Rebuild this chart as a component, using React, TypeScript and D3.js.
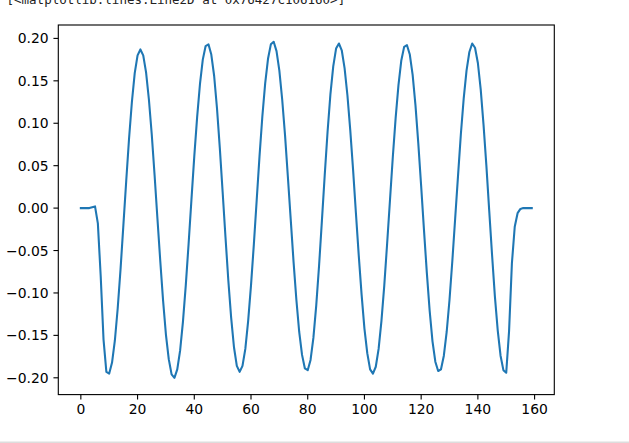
import React from "react";
import * as d3 from "d3";

// Sample index 0..159 and the values
const sampleValues: number[] = [
  0, 0, 0, 0, 0.001, 0.002, -0.018, -0.08, -0.155, -0.193,
  -0.195, -0.182, -0.156, -0.118, -0.072, -0.02, 0.032, 0.082, 0.125, 0.159,
  0.18, 0.187, 0.18, 0.16, 0.128, 0.087, 0.039, -0.012, -0.062, -0.109,
  -0.149, -0.178, -0.196, -0.2, -0.19, -0.168, -0.134, -0.091, -0.042, 0.01,
  0.061, 0.107, 0.146, 0.175, 0.191, 0.193, 0.181, 0.156, 0.118, 0.071,
  0.019, -0.034, -0.085, -0.129, -0.164, -0.186, -0.193, -0.186, -0.166, -0.133,
  -0.091, -0.043, 0.009, 0.061, 0.108, 0.147, 0.176, 0.193, 0.196, 0.185,
  0.162, 0.128, 0.086, 0.037, -0.013, -0.063, -0.108, -0.146, -0.173, -0.189,
  -0.191, -0.179, -0.153, -0.115, -0.068, -0.015, 0.039, 0.09, 0.134, 0.167,
  0.188, 0.194, 0.186, 0.165, 0.133, 0.092, 0.045, -0.006, -0.056, -0.102,
  -0.142, -0.171, -0.19, -0.195, -0.187, -0.166, -0.133, -0.091, -0.042, 0.009,
  0.06, 0.106, 0.145, 0.174, 0.19, 0.192, 0.181, 0.157, 0.121, 0.076,
  0.026, -0.026, -0.076, -0.121, -0.157, -0.181, -0.192, -0.19, -0.174, -0.146,
  -0.108, -0.062, -0.012, 0.038, 0.087, 0.129, 0.162, 0.184, 0.194, 0.189,
  0.171, 0.14, 0.098, 0.05, -0.003, -0.055, -0.104, -0.144, -0.174, -0.191,
  -0.194, -0.145, -0.065, -0.022, -0.006, -0.001, 0, 0, 0, 0,
];

const xTickValues: number[] = [0, 20, 40, 60, 80, 100, 120, 140, 160];
const yTickValues: number[] = [-0.2, -0.15, -0.1, -0.05, 0, 0.05, 0.1, 0.15, 0.2];
const headerText = "[<matplotlib.lines.Line2D at 0x76427c106160>]";

const W = 629;
const H = 443;
const left = 58.3;
const right = 554.3;
const top = 25;
const bottom = 394.6;
const tickLen = 4.86;
const pad = 4.86;
const fontFamily = "DejaVu Sans, sans-serif";

export default function App() {
  const data = sampleValues.map((v, i) => ({ x: i, y: v }));
  const xExt = d3.extent(data, (d) => d.x) as [number, number];
  const yExt = d3.extent(data, (d) => d.y) as [number, number];
  const xm = (xExt[1] - xExt[0]) * 0.05;
  const ym = (yExt[1] - yExt[0]) * 0.05;
  const x = d3.scaleLinear().domain([xExt[0] - xm, xExt[1] + xm]).range([left, right]);
  const y = d3.scaleLinear().domain([yExt[0] - ym, yExt[1] + ym]).range([bottom, top]);
  const line = d3
    .line<{ x: number; y: number }>()
    .x((d) => x(d.x))
    .y((d) => y(d.y));

  const fmtY = (v: number) => {
    const s = Math.abs(v).toFixed(2);
    return (v < -1e-9 ? "\u2212" : "") + s;
  };

  return (
    <svg
      width={W}
      height={H}
      style={{ position: "absolute", left: 0, top: 0, background: "#fff" }}
    >
      <rect x={0} y={0} width={W} height={H} fill="#fff" />
      <text
        x={6.5}
        y={4}
        fontFamily="DejaVu Sans Mono, monospace"
        fontSize={12.5}
        fill="#222"
      >
        {headerText}
      </text>
      <rect x={0} y={441.5} width={W} height={1.5} fill="#dddddd" />

      <path
        d={line(data) || ""}
        fill="none"
        stroke="#1f77b4"
        strokeWidth={2.08}
        strokeLinejoin="round"
        strokeLinecap="square"
      />

      <rect
        x={left}
        y={top}
        width={right - left}
        height={bottom - top}
        fill="none"
        stroke="#000"
        strokeWidth={1.11}
      />

      {xTickValues.map((t) => (
        <g key={"x" + t}>
          <line
            x1={x(t)}
            x2={x(t)}
            y1={bottom}
            y2={bottom + tickLen}
            stroke="#000"
            strokeWidth={1.11}
          />
          <text
            x={x(t)}
            y={bottom + tickLen + pad + 10.1}
            textAnchor="middle"
            fontFamily={fontFamily}
            fontSize={13.9}
            fill="#000"
          >
            {t}
          </text>
        </g>
      ))}

      {yTickValues.map((t) => (
        <g key={"y" + t}>
          <line
            x1={left - tickLen}
            x2={left}
            y1={y(t)}
            y2={y(t)}
            stroke="#000"
            strokeWidth={1.11}
          />
          <text
            x={left - tickLen - pad}
            y={y(t) + 5.05}
            textAnchor="end"
            fontFamily={fontFamily}
            fontSize={13.9}
            fill="#000"
          >
            {fmtY(t)}
          </text>
        </g>
      ))}
    </svg>
  );
}
